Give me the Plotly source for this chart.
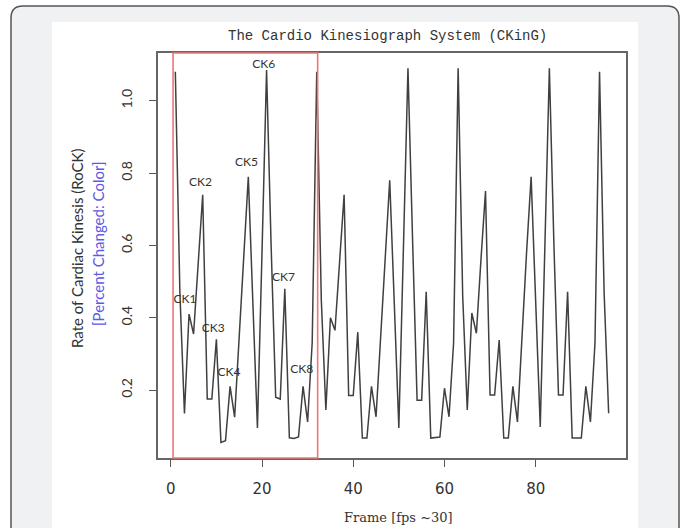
import plotly.graph_objects as go

# ---- data ----
frames = list(range(1, 97))
rock = [
    1.08, 0.47, 0.135, 0.41, 0.355, 0.55, 0.74, 0.175, 0.175, 0.34,
    0.055, 0.06, 0.21, 0.125, 0.35, 0.57, 0.79, 0.44, 0.095, 0.58,
    1.085, 0.60, 0.18, 0.175, 0.48, 0.068, 0.066, 0.07, 0.21, 0.112,
    0.33,
    1.08, 0.45, 0.145, 0.40, 0.365, 0.56, 0.74, 0.185, 0.185, 0.36,
    0.067, 0.067, 0.21, 0.126, 0.35, 0.57, 0.78, 0.44, 0.095, 0.59,
    1.09, 0.62, 0.172, 0.172, 0.472, 0.067, 0.068, 0.07, 0.205, 0.126,
    0.33,
    1.09, 0.46, 0.145, 0.413, 0.357, 0.56, 0.75, 0.186, 0.186, 0.338,
    0.067, 0.067, 0.21, 0.112, 0.36, 0.58, 0.79, 0.44, 0.098, 0.59,
    1.09, 0.60, 0.186, 0.186, 0.472, 0.067, 0.067, 0.067, 0.21, 0.112,
    0.33,
    1.08, 0.47, 0.136,
]
ck_labels = ["CK1", "CK2", "CK3", "CK4", "CK5", "CK6", "CK7", "CK8"]
ck_label_x = [3.1, 6.5, 9.3, 12.75, 16.6, 20.4, 24.7, 28.7]
ck_label_y = [0.449, 0.773, 0.368, 0.246, 0.829, 1.10, 0.509, 0.255]
x_ticks = [0, 20, 40, 60, 80]
y_ticks = [0.2, 0.4, 0.6, 0.8, 1.0]
y_ticktext = ["0.2", "0.4", "0.6", "0.8", "1.0"]
highlight_span = [0.5, 32.2]

W, H = 683, 528
L, R, T, B = 158, 626, 53, 458


def px(xp, yp):
    return (xp - L) / (R - L), (B - yp) / (B - T)


def P(a, b):
    u, v = px(a, b)
    return f"{u:.5f},{v:.5f}"


fig = go.Figure()
fig.add_trace(go.Scatter(
    x=frames, y=rock, mode="lines",
    line=dict(color="#404040", width=1.5),
    showlegend=False, hoverinfo="skip",
))
fig.add_trace(go.Scatter(
    x=ck_label_x, y=ck_label_y, mode="text", text=ck_labels,
    textposition="middle center",
    textfont=dict(family="Lato", size=12, color="#333333"),
    showlegend=False, hoverinfo="skip",
))

shapes = []
card_path = (
    f"M {P(11, 560)} L {P(11, 18)} Q {P(11, 6)} {P(23, 6)} "
    f"L {P(667, 6)} Q {P(679, 6)} {P(679, 18)} L {P(679, 560)} Z"
)
shapes.append(dict(type="path", xref="paper", yref="paper", path=card_path,
                   fillcolor="#f0f1f3", line=dict(color="#555555", width=1.5),
                   layer="below"))
x0, y0 = px(52, 22)
x1, y1 = px(638, 560)
shapes.append(dict(type="rect", xref="paper", yref="paper", x0=x0, y0=y1, x1=x1, y1=y0,
                   fillcolor="white", line=dict(width=0), layer="below"))
shapes.append(dict(type="rect", xref="x", yref="paper",
                   x0=highlight_span[0], x1=highlight_span[1], y0=0, y1=1,
                   line=dict(color="#f07575", width=1.6), fillcolor="rgba(0,0,0,0)",
                   layer="above"))

annotations = []


def label(xp, yp, text, family, size, color, angle=0):
    ax, ay = px(xp, yp)
    annotations.append(dict(x=ax, y=ay, xref="paper", yref="paper", text=text,
                            showarrow=False, textangle=angle,
                            xanchor="center", yanchor="middle",
                            font=dict(family=family, size=size, color=color)))


label(387, 36, "The Cardio Kinesiograph System (CKinG)", "Liberation Mono", 14, "#333333")
label(398, 517, "Frame [fps ~30]", "DejaVu Serif", 13, "#333333")
label(77, 248, "Rate of Cardiac Kinesis (RoCK)", "Lato", 15, "#333333", -90)
label(98, 244, "[Percent Changed: Color]", "Lato", 15, "#5a5ae6", -90)

fig.update_layout(
    width=W, height=H,
    margin=dict(l=L, r=W - R, t=T, b=H - B),
    paper_bgcolor="white", plot_bgcolor="white",
    shapes=shapes, annotations=annotations,
    xaxis=dict(range=[-2.8, 99.8], tickvals=x_ticks, ticks="outside", ticklen=7,
               tickcolor="#555555", showgrid=False, zeroline=False,
               showline=True, mirror=True, linecolor="#666666", linewidth=1.5,
               tickfont=dict(family="DejaVu Sans", size=15, color="#333333"),
               ticklabelstandoff=9),
    yaxis=dict(range=[0.012, 1.132], tickvals=y_ticks, ticktext=y_ticktext,
               ticks="outside", ticklen=7, tickangle=-90,
               tickcolor="#555555", showgrid=False, zeroline=False,
               showline=True, mirror=True, linecolor="#666666", linewidth=1.5,
               tickfont=dict(family="Lato", size=14, color="#333333"),
               ticklabelstandoff=12),
)

fig.write_html("out.html", config={"displayModeBar": False},
               post_script="document.body.style.margin='0';document.body.style.overflow='hidden';")
